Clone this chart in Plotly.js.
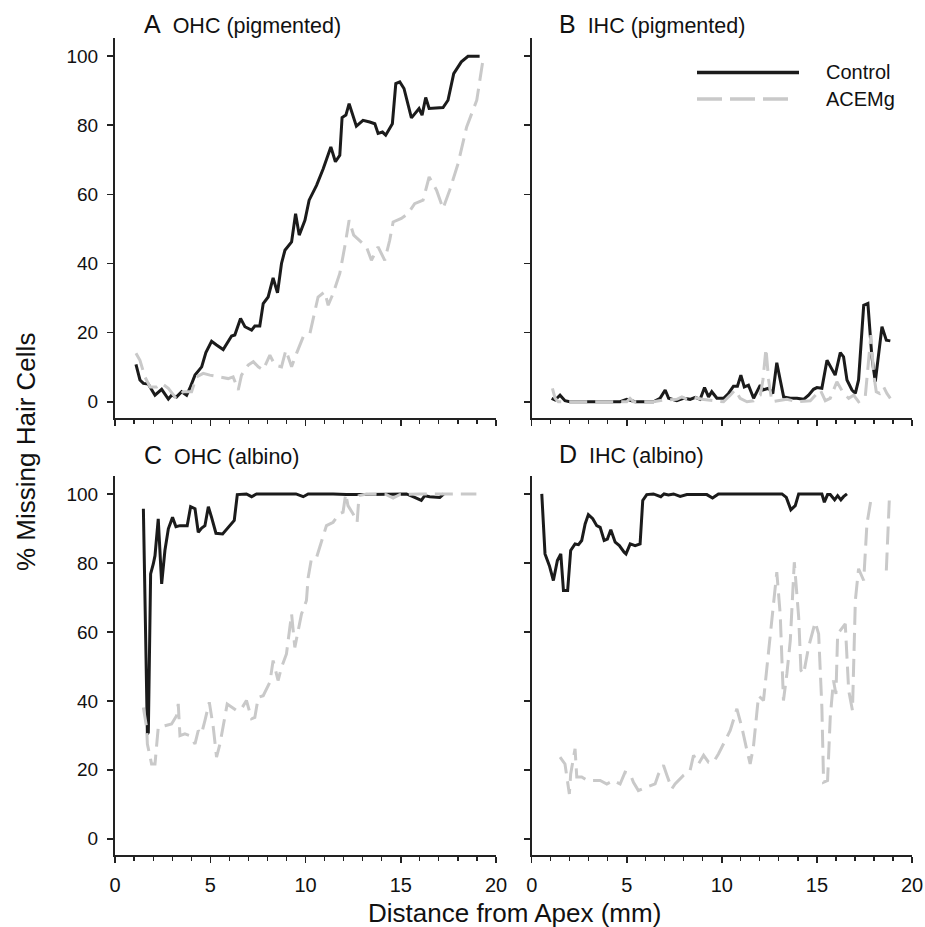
<!DOCTYPE html>
<html><head><meta charset="utf-8">
<script src="https://cdn.plot.ly/plotly-3.0.1.min.js"></script>
<style>html,body{margin:0;padding:0;background:#fff}</style>
</head><body>
<div id="chart" style="width:925px;height:927px"></div>
<script>
// ---- Data (distance from apex, mm ; % missing hair cells) ----
const seriesNames = ["Control", "ACEMg"];
const panelTitles = ["A", "OHC (pigmented)", "B", "IHC (pigmented)", "C", "OHC (albino)", "D", "IHC (albino)"];
const xTickVals = [0, 5, 10, 15, 20];
const yTickVals = [0, 20, 40, 60, 80, 100];

// A: OHC pigmented
const ohcPigControlX = [1.1,1.31,1.49,1.75,2.1,2.45,2.8,2.97,3.23,3.5,3.76,3.93,4.2,4.55,4.77,5.07,5.33,5.68,6.12,6.29,6.59,6.82,7.17,7.34,7.6,7.78,8.04,8.3,8.53,8.74,8.92,9.27,9.48,9.67,9.97,10.19,10.58,10.93,11.33,11.57,11.8,11.92,12.12,12.29,12.67,13.02,13.37,13.64,13.81,14.04,14.21,14.56,14.74,14.95,15.17,15.56,15.96,16.12,16.31,16.49,17.22,17.48,17.78,18.18,18.53,19.14];
const ohcPigControlY = [10.8,6.3,5.3,5.1,1.9,3.6,0.8,1.9,1.4,2.9,1.9,3.9,7.7,10.1,14.2,17.5,16.4,15.1,19.0,19.3,24.1,21.7,20.7,21.9,21.9,28.4,30.3,35.8,31.5,40.0,43.8,46.2,54.4,48.2,52.5,58.3,62.6,67.4,73.7,69.4,71.3,82.2,82.9,86.2,79.7,81.4,80.9,80.4,77.6,78.0,77.1,80.4,92.0,92.5,90.6,82.1,84.8,82.9,88.0,84.8,85.1,87.2,94.9,98.3,99.9,99.9];
const ohcPigAcemgX = [1.1,1.31,1.57,1.84,2.19,2.45,2.8,3.2,3.58,4.02,4.28,4.63,4.98,5.42,5.94,6.2,6.47,6.64,6.99,7.26,7.52,7.78,8.13,8.39,8.74,8.97,9.27,9.53,9.88,10.23,10.4,10.66,11.01,11.19,11.45,11.8,12.06,12.29,12.53,12.85,13.2,13.46,13.81,14.16,14.42,14.6,15.03,15.38,15.73,16.17,16.49,16.88,17.22,17.57,18.01,18.46,18.99,19.34];
const ohcPigAcemgY = [14.0,12.0,7.2,4.3,4.3,5.3,3.9,1.0,2.9,2.9,7.2,8.2,7.7,7.2,6.7,7.2,3.4,7.7,10.6,11.6,10.1,9.2,13.5,10.6,10.1,14.9,10.1,14.0,18.8,19.7,23.6,30.3,31.8,27.9,31.3,37.1,44.8,52.5,48.2,46.7,44.8,40.9,44.8,40.9,46.7,52.0,53.0,54.4,57.3,58.3,65.0,61.2,55.9,61.2,68.9,79.5,87.2,99.7];

// B: IHC pigmented
const ihcPigControlX = [1.05,1.23,1.49,1.75,2.0,4.65,5.0,5.44,6.4,6.75,7.02,7.2,7.63,7.98,8.33,8.6,8.86,9.09,9.3,9.47,9.74,10.09,10.35,10.61,10.82,11.0,11.18,11.4,11.67,12.02,12.16,12.46,12.68,12.89,13.07,13.25,13.6,13.95,14.3,14.56,14.82,15.0,15.26,15.53,15.96,16.23,16.4,16.58,16.84,17.02,17.19,17.46,17.68,17.89,18.07,18.25,18.42,18.65,18.86];
const ihcPigControlY = [1.0,0.5,1.9,0.3,0,0,0.7,0,0,1.0,3.4,1.0,0.3,1.0,0.7,1.3,0.7,4.1,1.4,2.9,1.0,1.0,2.4,4.5,4.5,7.7,4.3,4.8,1.0,4.8,3.4,3.9,2.4,11.3,6.3,1.4,1.0,1.0,0.7,1.9,3.6,4.1,3.9,12.0,7.7,14.2,13.0,6.3,3.4,2.4,6.3,27.9,28.4,13.0,5.8,14.0,21.7,17.8,17.6];
const ihcPigAcemgX = [1.09,1.23,1.4,5.0,5.17,5.35,6.4,6.93,7.63,7.9,8.16,8.5,8.95,9.3,9.74,10.09,10.44,10.7,10.96,11.32,11.67,12.02,12.16,12.32,12.46,12.63,13.42,13.95,14.65,15.18,15.44,15.7,16.05,16.4,16.67,16.93,17.19,17.54,17.84,17.98,18.12,18.3,18.51,18.68,18.86];
const ihcPigAcemgY = [3.9,1.0,0,0,1.0,0,0,0.5,0.7,1.4,0.7,1.3,0.7,0.5,0.3,0,1.9,3.4,1.0,0,0.3,1.9,6.3,15.4,6.3,0,0.7,0,0.3,3.4,0.3,1.0,5.8,2.4,1.0,1.9,0,1.4,19.3,8.2,2.9,2.4,4.3,2.4,1.0];

// C: OHC albino
const ohcAlbControlX = [1.49,1.54,1.63,1.7,1.75,1.8,1.87,2.01,2.1,2.27,2.45,2.62,2.8,3.02,3.2,3.41,3.79,3.97,4.2,4.37,4.55,4.72,4.9,5.07,5.3,5.65,6.0,6.26,6.42,6.9,7.17,7.43,7.95,9.0,9.5,9.88,10.14,11.45,12.15,13.2,14.42,15.3,15.73,16.08,16.26,16.52,17.05,17.26];
const ohcAlbControlY = [95.7,76.8,47.8,30.4,30.9,57.5,76.8,79.7,82.1,92.8,73.9,83.6,89.9,93.2,90.5,90.8,90.8,96.3,95.7,88.9,90.1,90.8,96.3,93.2,88.6,88.4,90.8,92.3,99.8,100,99.2,100,100,100,100,99.2,100,100,99.8,99.8,99.8,100,99.0,98.1,99.5,99.2,99.0,100];
const ohcAlbAcemgX = [1.49,1.66,1.7,1.92,2.1,2.27,2.62,2.97,3.23,3.32,3.41,3.67,3.93,4.2,4.37,4.54,4.72,4.95,5.16,5.33,5.51,5.77,5.89,6.38,6.64,6.9,7.17,7.34,7.52,7.78,8.13,8.3,8.56,8.74,9.0,9.27,9.44,9.79,10.05,10.14,10.31,10.58,10.89,11.1,11.45,11.76,11.97,12.11,12.23,12.5,12.71,12.81,13.2,14.25,14.6,14.94,16.0,18.97];
const ohcAlbAcemgY = [38.1,32.3,27.5,21.7,21.7,32.3,32.8,33.3,35.7,39.1,29.9,30.4,29.9,27.5,31.4,30.4,34.3,39.6,32.3,23.7,27.5,35.2,39.1,37.2,37.7,40.1,34.8,35.2,41.0,41.5,45.4,51.7,45.9,49.7,53.6,65.2,55.5,65.2,69.1,75.8,81.2,81.6,87.4,90.8,91.8,94.2,94.7,100,96.6,94.2,91.8,99.5,100,99.8,98.8,99.8,100,100];

// D: IHC albino
const ihcAlbControlX = [0.53,0.7,0.93,1.14,1.35,1.53,1.67,1.89,2.05,2.28,2.46,2.63,2.81,2.98,3.21,3.42,3.6,3.81,3.98,4.16,4.39,4.61,4.86,4.96,5.18,5.44,5.7,5.84,6.05,6.4,6.79,6.96,7.19,7.46,7.81,8.16,9.21,9.51,9.82,10.61,13.16,13.39,13.63,13.86,14.04,15.26,15.39,15.56,15.7,15.93,16.09,16.26,16.4,16.58];
const ihcAlbControlY = [100,82.6,79.2,74.9,80.7,82.6,72.0,72.0,83.6,85.5,85.3,86.5,91.3,94.0,92.8,90.8,90.3,86.5,86.9,89.6,86.0,85.0,83.1,82.6,85.5,85.0,85.5,98.1,99.8,100,99.2,100,99.7,100,99.3,99.8,99.8,98.8,100,100,100,99.0,95.4,96.6,100,100,97.6,99.8,99.8,98.3,99.5,98.3,99.2,100];
const ihcAlbAcemgX = [1.49,1.75,1.98,2.05,2.28,2.37,2.63,2.93,3.6,3.95,4.3,4.65,4.91,5.18,5.35,5.61,6.05,6.49,6.67,6.93,7.11,7.37,7.54,7.98,8.33,8.51,8.77,9.04,9.3,9.56,9.82,10.18,10.44,10.79,11.05,11.32,11.49,11.66,11.93,12.19,12.37,12.63,12.89,13.07,13.24,13.42,13.6,13.81,14.04,14.16,14.3,14.56,14.91,15.09,15.26,15.35,15.56,15.7,15.87,16.0,16.09,16.49,16.67,16.87,17.02,17.19,17.46,17.63,17.89,18.2,18.65,18.82];
const ihcAlbAcemgY = [23.7,21.7,13.0,18.8,26.1,17.9,17.9,16.9,16.9,15.9,16.9,15.9,19.3,18.8,16.4,14.0,15.0,15.9,18.8,21.3,18.4,14.5,15.9,18.4,19.8,24.2,21.7,24.2,22.2,22.2,24.6,28.5,31.4,37.7,32.4,25.6,21.7,26.6,41.5,40.1,49.8,64.0,77.3,65.0,40.1,47.8,57.5,80.2,64.3,48.8,47.8,55.6,62.8,59.4,38.2,16.4,16.9,35.2,45.9,42.0,59.4,62.3,43.0,37.2,69.1,78.3,74.9,91.3,100,null,77.8,100];

// ---- Styling ----
const W = 925, H = 927;
const BLACK = '#1b1b1b', GRAY = '#c9c9c9', AXC = '#222222';
const FONT = 'Liberation Sans, Arial, sans-serif';
const ctlLine = {color: BLACK, width: 3};
const aceLine = {color: GRAY, width: 3, dash: '18px,8px'};

const panels = [
  {xa:'x',  ya:'y',  cx:ohcPigControlX, cy:ohcPigControlY, ax:ohcPigAcemgX, ay:ohcPigAcemgY},
  {xa:'x2', ya:'y2', cx:ihcPigControlX, cy:ihcPigControlY, ax:ihcPigAcemgX, ay:ihcPigAcemgY},
  {xa:'x3', ya:'y3', cx:ohcAlbControlX, cy:ohcAlbControlY, ax:ohcAlbAcemgX, ay:ohcAlbAcemgY},
  {xa:'x4', ya:'y4', cx:ihcAlbControlX, cy:ihcAlbControlY, ax:ihcAlbAcemgX, ay:ihcAlbAcemgY}
];
const traces = [];
panels.forEach(p => {
  traces.push({type:'scatter', mode:'lines', name:seriesNames[0], x:p.cx, y:p.cy, xaxis:p.xa, yaxis:p.ya, line:ctlLine, showlegend:false, connectgaps:false});
  traces.push({type:'scatter', mode:'lines', name:seriesNames[1], x:p.ax, y:p.ay, xaxis:p.xa, yaxis:p.ya, line:aceLine, showlegend:false, connectgaps:false});
});

function px2x(px){ return px / W; }
function px2y(py){ return 1 - py / H; }

const colL = [px2x(115), px2x(496)];
const colR = [px2x(531.7), px2x(912)];
const rowT = [px2y(418), px2y(38)];
const rowB = [px2y(855), px2y(476)];

function xAxis(domain, anchor, labels){
  return {domain, anchor, range:[0,20], tickmode:'array', tickvals:xTickVals, ticktext:xTickVals.map(String),
    showticklabels:labels, ticks:'outside', ticklen:6, tickwidth:1.5, tickcolor:AXC,
    minor:{dtick:1, tick0:0, ticks:'outside', ticklen:4, tickwidth:1.2, tickcolor:AXC, showgrid:false},
    showline:true, linecolor:AXC, linewidth:2, showgrid:false, zeroline:false,
    tickfont:{family:FONT, size:20, color:'#111'}, ticklabelstandoff:5, fixedrange:true};
}
function yAxis(domain, anchor, labels){
  return {domain, anchor, range:[-4.7,105.2], tickmode:'array', tickvals:yTickVals, ticktext:yTickVals.map(String),
    showticklabels:labels, ticks:'outside', ticklen:6, tickwidth:1.5, tickcolor:AXC,
    showline:true, linecolor:AXC, linewidth:2, showgrid:false, zeroline:false,
    tickfont:{family:FONT, size:19, color:'#111'}, ticklabelstandoff:5, fixedrange:true};
}

function panelTitle(letter, text, px, py){
  return {xref:'paper', yref:'paper', x:px2x(px), y:px2y(py), xanchor:'left', yanchor:'middle', showarrow:false,
    text:'<span style="font-size:25px">'+letter+'</span>\u00a0\u00a0'+text, font:{family:FONT, size:21.5, color:'#111'}};
}

const layout = {
  width:W, height:H, margin:{l:0,r:0,t:0,b:0}, paper_bgcolor:'#fff', plot_bgcolor:'#fff', showlegend:false,
  xaxis: xAxis(colL,'y',false),  yaxis: yAxis(rowT,'x',true),
  xaxis2: xAxis(colR,'y2',false), yaxis2: yAxis(rowT,'x2',false),
  xaxis3: xAxis(colL,'y3',true),  yaxis3: yAxis(rowB,'x3',true),
  xaxis4: xAxis(colR,'y4',true),  yaxis4: yAxis(rowB,'x4',false),
  shapes: [
    {type:'line', xref:'paper', yref:'paper', x0:px2x(697), x1:px2x(799), y0:px2y(72.5), y1:px2y(72.5), line:{color:BLACK, width:3.5}},
    {type:'line', xref:'paper', yref:'paper', x0:px2x(697), x1:px2x(789), y0:px2y(99), y1:px2y(99), line:{color:GRAY, width:3.5, dash:'25px,8px'}}
  ],
  annotations: [
    panelTitle(panelTitles[0], panelTitles[1], 142, 24),
    panelTitle(panelTitles[2], panelTitles[3], 557, 24),
    panelTitle(panelTitles[4], panelTitles[5], 142, 455),
    panelTitle(panelTitles[6], panelTitles[7], 557, 454),
    {xref:'paper', yref:'paper', x:px2x(824), y:px2y(72), xanchor:'left', yanchor:'middle', showarrow:false, text:seriesNames[0], font:{family:FONT, size:20, color:'#111'}},
    {xref:'paper', yref:'paper', x:px2x(824), y:px2y(99), xanchor:'left', yanchor:'middle', showarrow:false, text:seriesNames[1], font:{family:FONT, size:20, color:'#111'}},
    {xref:'paper', yref:'paper', x:px2x(514), y:px2y(913), xanchor:'center', yanchor:'middle', showarrow:false, text:'Distance from Apex (mm)', font:{family:FONT, size:26, color:'#111'}},
    {xref:'paper', yref:'paper', x:px2x(26), y:px2y(452), xanchor:'center', yanchor:'middle', showarrow:false, textangle:-90, text:'% Missing Hair Cells', font:{family:FONT, size:26, color:'#111'}}
  ]
};

Plotly.newPlot('chart', traces, layout, {displayModeBar:false, staticPlot:true});
</script>
</body></html>
